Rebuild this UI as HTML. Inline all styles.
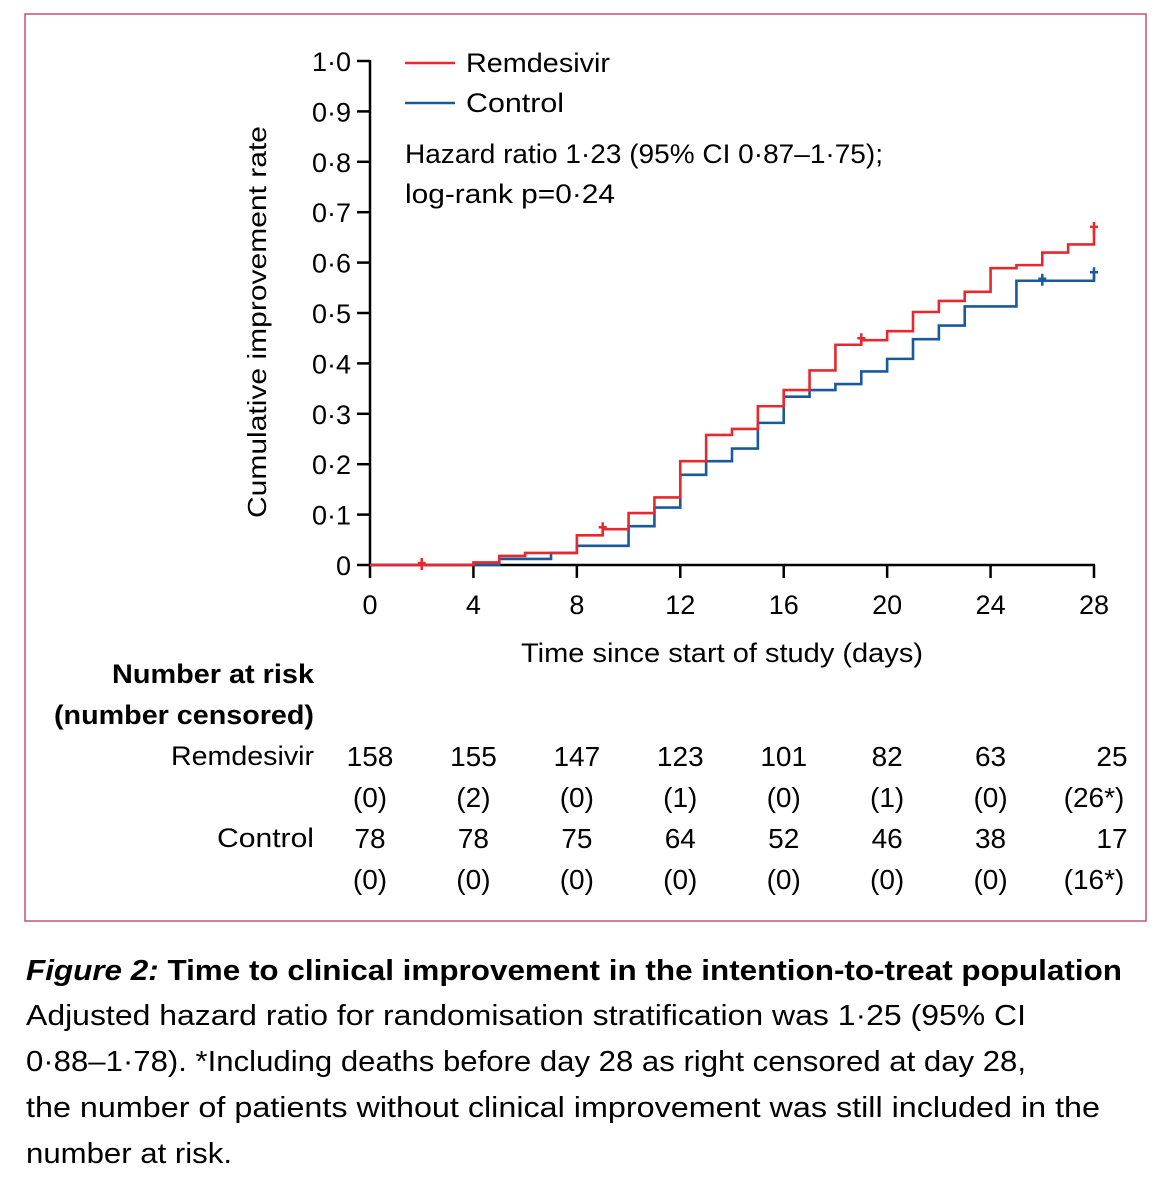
<!DOCTYPE html>
<html><head><meta charset="utf-8"><style>
html,body{margin:0;padding:0;background:#fff;}
svg{display:block;font-family:"Liberation Sans",sans-serif;}
</style></head><body>
<svg id="chart" width="1173" height="1200" viewBox="0 0 1173 1200" xmlns="http://www.w3.org/2000/svg">
<rect x="25" y="14" width="1121" height="907" fill="none" stroke="#c8507a" stroke-width="1.5"/>
<g id="axes"></g>
<g id="series"></g>
<text transform="translate(266,322) rotate(-90)" text-anchor="middle" font-size="26" fill="#000" textLength="392" lengthAdjust="spacingAndGlyphs">Cumulative improvement rate</text>
<text x="722" y="662" text-anchor="middle" font-size="27" fill="#000" textLength="402" lengthAdjust="spacingAndGlyphs">Time since start of study (days)</text>
<g>
<line x1="405" y1="63" x2="455" y2="63" stroke="#e8282e" stroke-width="2.5"/>
<text x="466" y="72" font-size="27" fill="#000" textLength="144" lengthAdjust="spacingAndGlyphs">Remdesivir</text>
<line x1="405" y1="103" x2="455" y2="103" stroke="#1a5a9c" stroke-width="2.5"/>
<text x="466" y="112" font-size="27" fill="#000" textLength="98" lengthAdjust="spacingAndGlyphs">Control</text>
</g>
<text x="405" y="163" font-size="27" fill="#000" textLength="478" lengthAdjust="spacingAndGlyphs">Hazard ratio 1·23 (95% CI 0·87–1·75);</text>
<text x="405" y="203" font-size="27" fill="#000" textLength="210" lengthAdjust="spacingAndGlyphs">log-rank p=0·24</text>
<text x="314" y="683" text-anchor="end" font-size="27" font-weight="bold" fill="#000" textLength="202" lengthAdjust="spacingAndGlyphs">Number at risk</text>
<text x="314" y="724" text-anchor="end" font-size="27" font-weight="bold" fill="#000" textLength="260" lengthAdjust="spacingAndGlyphs">(number censored)</text>
<text x="314" y="765" text-anchor="end" font-size="27" fill="#000" textLength="143" lengthAdjust="spacingAndGlyphs">Remdesivir</text>
<text x="314" y="847" text-anchor="end" font-size="27" fill="#000" textLength="97" lengthAdjust="spacingAndGlyphs">Control</text>
<g id="risk"></g>
<g fill="#000">
<text x="26" y="980" font-size="29" font-weight="bold" textLength="1096" lengthAdjust="spacingAndGlyphs"><tspan font-style="italic">Figure 2:</tspan> Time to clinical improvement in the intention-to-treat population</text>
<text x="26" y="1025" font-size="29" textLength="1000" lengthAdjust="spacingAndGlyphs">Adjusted hazard ratio for randomisation stratification was 1·25 (95% CI</text>
<text x="26" y="1071" font-size="29" textLength="1000" lengthAdjust="spacingAndGlyphs">0·88–1·78). *Including deaths before day 28 as right censored at day 28,</text>
<text x="26" y="1117" font-size="29" textLength="1074" lengthAdjust="spacingAndGlyphs">the number of patients without clinical improvement was still included in the</text>
<text x="26" y="1163" font-size="29" textLength="206" lengthAdjust="spacingAndGlyphs">number at risk.</text>
</g>
</svg>
<script>
var xTicks = [0,4,8,12,16,20,24,28];
var yTicks = [0,0.1,0.2,0.3,0.4,0.5,0.6,0.7,0.8,0.9,1.0];
var yTickLabels = ["0","0·1","0·2","0·3","0·4","0·5","0·6","0·7","0·8","0·9","1·0"];
var remDays = [0,4,5,6,8,9,10,11,12,13,14,15,16,17,18,19,20,21,22,23,24,25,26,27,28];
var remVals = [0,0.005,0.018,0.024,0.059,0.071,0.103,0.134,0.206,0.258,0.27,0.315,0.347,0.386,0.437,0.446,0.464,0.502,0.524,0.542,0.589,0.595,0.62,0.636,0.667];
var ctlDays = [0,5,7,8,10,11,12,13,14,15,16,17,18,19,20,21,22,23,25,28];
var ctlVals = [0,0.012,0.024,0.038,0.077,0.114,0.179,0.206,0.231,0.282,0.334,0.347,0.359,0.384,0.409,0.448,0.475,0.513,0.564,0.577];
var remCensorDays = [2,9,19,28];
var ctlCensorDays = [26,28];
var remAtRisk = ["158","155","147","123","101","82","63","25"];
var remCensored = ["(0)","(2)","(0)","(1)","(0)","(1)","(0)","(26*)"];
var ctlAtRisk = ["78","78","75","64","52","46","38","17"];
var ctlCensored = ["(0)","(0)","(0)","(0)","(0)","(0)","(0)","(16*)"];

var NS="http://www.w3.org/2000/svg";
function X(d){return 370+d*(1094-370)/28;}
function Y(v){return 565-v*504;}
function mk(tag,attrs,parent){var e=document.createElementNS(NS,tag);for(var k in attrs)e.setAttribute(k,attrs[k]);parent.appendChild(e);return e;}
var axes=document.getElementById('axes');
var yl=mk('line',{x1:370,y1:Y(1)-1,x2:370,y2:566,stroke:'#000','stroke-width':2.5},axes);


var xl=mk('line',{x1:369,y1:565,x2:1095,y2:565,stroke:'#000','stroke-width':2.5},axes);


yTicks.forEach(function(v,i){
  var t=mk('line',{x1:357,y1:Y(v),x2:370,y2:Y(v),stroke:'#000','stroke-width':2.5},axes);
  
  
  var tx=mk('text',{x:351,y:Y(v)+10,'text-anchor':'end','font-size':27,fill:'#000'},axes);
  tx.textContent=yTickLabels[i];
  
  
});
xTicks.forEach(function(d){
  var t=mk('line',{x1:X(d),y1:565,x2:X(d),y2:578,stroke:'#000','stroke-width':2.5},axes);
  
  
  var tx=mk('text',{x:X(d),y:614,'text-anchor':'middle','font-size':27,fill:'#000'},axes);
  tx.textContent=String(d);
  
  
});
var series=document.getElementById('series');
function stepPath(days,vals){
  var p='M'+X(days[0])+','+Y(vals[0]);
  for(var i=1;i<days.length;i++){p+=' H'+X(days[i])+' V'+Y(vals[i]);}
  return p;
}
function valAt(days,vals,d){var v=vals[0];for(var i=0;i<days.length;i++){if(days[i]<=d)v=vals[i];}return v;}
var cp=mk('path',{d:stepPath(ctlDays,ctlVals),fill:'none',stroke:'#1a5a9c','stroke-width':2.6},series);


var rp=mk('path',{d:stepPath(remDays,remVals),fill:'none',stroke:'#e8282e','stroke-width':2.6},series);


function censor(d,days,vals,color,name){
  var x=X(d),y=Y(valAt(days,vals,d));
  var c=mk('path',{d:'M'+x+','+(y-7)+' V'+(y+5)+' M'+(x-4)+','+(y-2)+' H'+(x+4),fill:'none',stroke:color,'stroke-width':2.5},series);
  
  
}
remCensorDays.forEach(function(d){censor(d,remDays,remVals,'#e8282e','remdesivir-censor-mark');});
ctlCensorDays.forEach(function(d){censor(d,ctlDays,ctlVals,'#1a5a9c','control-censor-mark');});
var risk=document.getElementById('risk');
function row(arr,y,name,lastShift){
  arr.forEach(function(s,i){
    var x=X(xTicks[i])+(i===arr.length-1?lastShift:0);
    var t=mk('text',{x:x,y:y,'text-anchor':'middle','font-size':28,fill:'#000'},risk);
    t.textContent=s;
    
    
  });
}
row(remAtRisk,766,'remdesivir-at-risk',18);
row(remCensored,807,'remdesivir-censored',0);
row(ctlAtRisk,848,'control-at-risk',18);
row(ctlCensored,889,'control-censored',0);
</script>
</body></html>
